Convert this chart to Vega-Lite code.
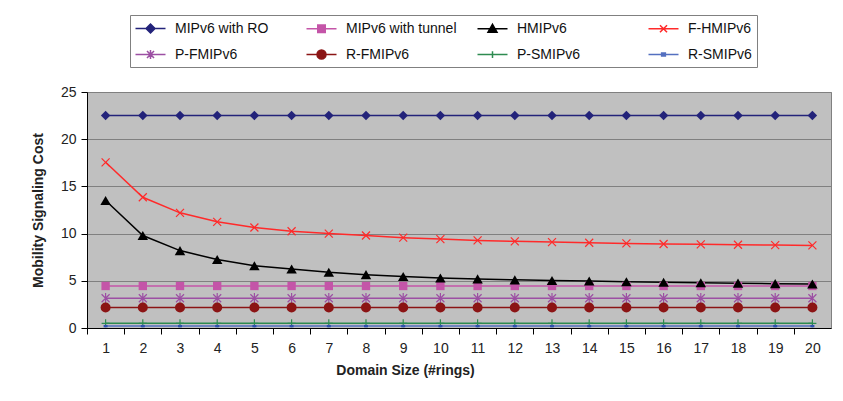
{
  "$schema": "https://vega.github.io/schema/vega-lite/v6.json",
  "width": 744,
  "height": 236,
  "autosize": {"type": "none"},
  "padding": {"left": 87, "top": 92, "right": 12, "bottom": 73},
  "background": "white",
  "config": {
    "font": "Liberation Sans",
    "view": {"fill": "#C0C0C0", "stroke": "#808080", "strokeWidth": 1},
    "axis": {"labelColor": "#222222", "titleColor": "#222222", "domainColor": "#000000", "tickColor": "#000000", "domainWidth": 1, "tickWidth": 1}
  },
  "data": {"values": [
    {"ring":1,"series":"MIPv6 with RO","cost":22.5},{"ring":2,"series":"MIPv6 with RO","cost":22.5},{"ring":3,"series":"MIPv6 with RO","cost":22.5},{"ring":4,"series":"MIPv6 with RO","cost":22.5},{"ring":5,"series":"MIPv6 with RO","cost":22.5},{"ring":6,"series":"MIPv6 with RO","cost":22.5},{"ring":7,"series":"MIPv6 with RO","cost":22.5},{"ring":8,"series":"MIPv6 with RO","cost":22.5},{"ring":9,"series":"MIPv6 with RO","cost":22.5},{"ring":10,"series":"MIPv6 with RO","cost":22.5},{"ring":11,"series":"MIPv6 with RO","cost":22.5},{"ring":12,"series":"MIPv6 with RO","cost":22.5},{"ring":13,"series":"MIPv6 with RO","cost":22.5},{"ring":14,"series":"MIPv6 with RO","cost":22.5},{"ring":15,"series":"MIPv6 with RO","cost":22.5},{"ring":16,"series":"MIPv6 with RO","cost":22.5},{"ring":17,"series":"MIPv6 with RO","cost":22.5},{"ring":18,"series":"MIPv6 with RO","cost":22.5},{"ring":19,"series":"MIPv6 with RO","cost":22.5},{"ring":20,"series":"MIPv6 with RO","cost":22.5},
    {"ring":1,"series":"MIPv6 with tunnel","cost":4.45},{"ring":2,"series":"MIPv6 with tunnel","cost":4.45},{"ring":3,"series":"MIPv6 with tunnel","cost":4.45},{"ring":4,"series":"MIPv6 with tunnel","cost":4.45},{"ring":5,"series":"MIPv6 with tunnel","cost":4.45},{"ring":6,"series":"MIPv6 with tunnel","cost":4.45},{"ring":7,"series":"MIPv6 with tunnel","cost":4.45},{"ring":8,"series":"MIPv6 with tunnel","cost":4.45},{"ring":9,"series":"MIPv6 with tunnel","cost":4.45},{"ring":10,"series":"MIPv6 with tunnel","cost":4.45},{"ring":11,"series":"MIPv6 with tunnel","cost":4.45},{"ring":12,"series":"MIPv6 with tunnel","cost":4.45},{"ring":13,"series":"MIPv6 with tunnel","cost":4.45},{"ring":14,"series":"MIPv6 with tunnel","cost":4.45},{"ring":15,"series":"MIPv6 with tunnel","cost":4.45},{"ring":16,"series":"MIPv6 with tunnel","cost":4.45},{"ring":17,"series":"MIPv6 with tunnel","cost":4.45},{"ring":18,"series":"MIPv6 with tunnel","cost":4.45},{"ring":19,"series":"MIPv6 with tunnel","cost":4.45},{"ring":20,"series":"MIPv6 with tunnel","cost":4.45},
    {"ring":1,"series":"HMIPv6","cost":13.5},{"ring":2,"series":"HMIPv6","cost":9.8},{"ring":3,"series":"HMIPv6","cost":8.2},{"ring":4,"series":"HMIPv6","cost":7.25},{"ring":5,"series":"HMIPv6","cost":6.6},{"ring":6,"series":"HMIPv6","cost":6.25},{"ring":7,"series":"HMIPv6","cost":5.9},{"ring":8,"series":"HMIPv6","cost":5.65},{"ring":9,"series":"HMIPv6","cost":5.45},{"ring":10,"series":"HMIPv6","cost":5.3},{"ring":11,"series":"HMIPv6","cost":5.2},{"ring":12,"series":"HMIPv6","cost":5.1},{"ring":13,"series":"HMIPv6","cost":5.03},{"ring":14,"series":"HMIPv6","cost":4.97},{"ring":15,"series":"HMIPv6","cost":4.9},{"ring":16,"series":"HMIPv6","cost":4.85},{"ring":17,"series":"HMIPv6","cost":4.8},{"ring":18,"series":"HMIPv6","cost":4.75},{"ring":19,"series":"HMIPv6","cost":4.7},{"ring":20,"series":"HMIPv6","cost":4.66},
    {"ring":1,"series":"F-HMIPv6","cost":17.55},{"ring":2,"series":"F-HMIPv6","cost":13.85},{"ring":3,"series":"F-HMIPv6","cost":12.2},{"ring":4,"series":"F-HMIPv6","cost":11.25},{"ring":5,"series":"F-HMIPv6","cost":10.65},{"ring":6,"series":"F-HMIPv6","cost":10.25},{"ring":7,"series":"F-HMIPv6","cost":10.0},{"ring":8,"series":"F-HMIPv6","cost":9.8},{"ring":9,"series":"F-HMIPv6","cost":9.57},{"ring":10,"series":"F-HMIPv6","cost":9.42},{"ring":11,"series":"F-HMIPv6","cost":9.28},{"ring":12,"series":"F-HMIPv6","cost":9.18},{"ring":13,"series":"F-HMIPv6","cost":9.1},{"ring":14,"series":"F-HMIPv6","cost":9.03},{"ring":15,"series":"F-HMIPv6","cost":8.96},{"ring":16,"series":"F-HMIPv6","cost":8.9},{"ring":17,"series":"F-HMIPv6","cost":8.86},{"ring":18,"series":"F-HMIPv6","cost":8.82},{"ring":19,"series":"F-HMIPv6","cost":8.78},{"ring":20,"series":"F-HMIPv6","cost":8.75},
    {"ring":1,"series":"P-FMIPv6","cost":3.15},{"ring":2,"series":"P-FMIPv6","cost":3.15},{"ring":3,"series":"P-FMIPv6","cost":3.15},{"ring":4,"series":"P-FMIPv6","cost":3.15},{"ring":5,"series":"P-FMIPv6","cost":3.15},{"ring":6,"series":"P-FMIPv6","cost":3.15},{"ring":7,"series":"P-FMIPv6","cost":3.15},{"ring":8,"series":"P-FMIPv6","cost":3.15},{"ring":9,"series":"P-FMIPv6","cost":3.15},{"ring":10,"series":"P-FMIPv6","cost":3.15},{"ring":11,"series":"P-FMIPv6","cost":3.15},{"ring":12,"series":"P-FMIPv6","cost":3.15},{"ring":13,"series":"P-FMIPv6","cost":3.15},{"ring":14,"series":"P-FMIPv6","cost":3.15},{"ring":15,"series":"P-FMIPv6","cost":3.15},{"ring":16,"series":"P-FMIPv6","cost":3.15},{"ring":17,"series":"P-FMIPv6","cost":3.15},{"ring":18,"series":"P-FMIPv6","cost":3.15},{"ring":19,"series":"P-FMIPv6","cost":3.15},{"ring":20,"series":"P-FMIPv6","cost":3.15},
    {"ring":1,"series":"R-FMIPv6","cost":2.18},{"ring":2,"series":"R-FMIPv6","cost":2.18},{"ring":3,"series":"R-FMIPv6","cost":2.18},{"ring":4,"series":"R-FMIPv6","cost":2.18},{"ring":5,"series":"R-FMIPv6","cost":2.18},{"ring":6,"series":"R-FMIPv6","cost":2.18},{"ring":7,"series":"R-FMIPv6","cost":2.18},{"ring":8,"series":"R-FMIPv6","cost":2.18},{"ring":9,"series":"R-FMIPv6","cost":2.18},{"ring":10,"series":"R-FMIPv6","cost":2.18},{"ring":11,"series":"R-FMIPv6","cost":2.18},{"ring":12,"series":"R-FMIPv6","cost":2.18},{"ring":13,"series":"R-FMIPv6","cost":2.18},{"ring":14,"series":"R-FMIPv6","cost":2.18},{"ring":15,"series":"R-FMIPv6","cost":2.18},{"ring":16,"series":"R-FMIPv6","cost":2.18},{"ring":17,"series":"R-FMIPv6","cost":2.18},{"ring":18,"series":"R-FMIPv6","cost":2.18},{"ring":19,"series":"R-FMIPv6","cost":2.18},{"ring":20,"series":"R-FMIPv6","cost":2.18},
    {"ring":1,"series":"P-SMIPv6","cost":0.5},{"ring":2,"series":"P-SMIPv6","cost":0.5},{"ring":3,"series":"P-SMIPv6","cost":0.5},{"ring":4,"series":"P-SMIPv6","cost":0.5},{"ring":5,"series":"P-SMIPv6","cost":0.5},{"ring":6,"series":"P-SMIPv6","cost":0.5},{"ring":7,"series":"P-SMIPv6","cost":0.5},{"ring":8,"series":"P-SMIPv6","cost":0.5},{"ring":9,"series":"P-SMIPv6","cost":0.5},{"ring":10,"series":"P-SMIPv6","cost":0.5},{"ring":11,"series":"P-SMIPv6","cost":0.5},{"ring":12,"series":"P-SMIPv6","cost":0.5},{"ring":13,"series":"P-SMIPv6","cost":0.5},{"ring":14,"series":"P-SMIPv6","cost":0.5},{"ring":15,"series":"P-SMIPv6","cost":0.5},{"ring":16,"series":"P-SMIPv6","cost":0.5},{"ring":17,"series":"P-SMIPv6","cost":0.5},{"ring":18,"series":"P-SMIPv6","cost":0.5},{"ring":19,"series":"P-SMIPv6","cost":0.5},{"ring":20,"series":"P-SMIPv6","cost":0.5},
    {"ring":1,"series":"R-SMIPv6","cost":0.2},{"ring":2,"series":"R-SMIPv6","cost":0.2},{"ring":3,"series":"R-SMIPv6","cost":0.2},{"ring":4,"series":"R-SMIPv6","cost":0.2},{"ring":5,"series":"R-SMIPv6","cost":0.2},{"ring":6,"series":"R-SMIPv6","cost":0.2},{"ring":7,"series":"R-SMIPv6","cost":0.2},{"ring":8,"series":"R-SMIPv6","cost":0.2},{"ring":9,"series":"R-SMIPv6","cost":0.2},{"ring":10,"series":"R-SMIPv6","cost":0.2},{"ring":11,"series":"R-SMIPv6","cost":0.2},{"ring":12,"series":"R-SMIPv6","cost":0.2},{"ring":13,"series":"R-SMIPv6","cost":0.2},{"ring":14,"series":"R-SMIPv6","cost":0.2},{"ring":15,"series":"R-SMIPv6","cost":0.2},{"ring":16,"series":"R-SMIPv6","cost":0.2},{"ring":17,"series":"R-SMIPv6","cost":0.2},{"ring":18,"series":"R-SMIPv6","cost":0.2},{"ring":19,"series":"R-SMIPv6","cost":0.2},{"ring":20,"series":"R-SMIPv6","cost":0.2}
  ]},
  "encoding": {
    "x": {
      "field": "ring", "type": "quantitative",
      "scale": {"domain": [0.5, 20.5], "nice": false, "zero": false},
      "axis": {
        "values": [1,2,3,4,5,6,7,8,9,10,11,12,13,14,15,16,17,18,19,20],
        "format": "d", "grid": false, "tickSize": 6, "tickOffset": -18.6, "labelOffset": 18.6,
        "labelFontSize": 14, "labelPadding": 7, "labelFlush": false, "labelOverlap": false,
        "title": "Domain Size (#rings)", "titleFontSize": 14, "titleFontWeight": "bold",
        "titlePadding": 8, "titleX": 318
      }
    },
    "y": {
      "field": "cost", "type": "quantitative",
      "scale": {"domain": [0, 25], "nice": false},
      "axis": {
        "values": [0,5,10,15,20,25], "grid": true, "gridColor": "#808080", "gridWidth": 1,
        "tickSize": 6, "labelFontSize": 14, "labelPadding": 5,
        "title": "Mobility Signaling Cost", "titleFontSize": 14, "titleFontWeight": "bold", "titlePadding": 15
      }
    }
  },
  "layer": [
    {
      "mark": {"type": "line", "strokeWidth": 1.5},
      "encoding": {
        "color": {
          "field": "series", "type": "nominal",
          "scale": {
            "domain": ["MIPv6 with RO","MIPv6 with tunnel","HMIPv6","F-HMIPv6","P-FMIPv6","R-FMIPv6","P-SMIPv6","R-SMIPv6"],
            "range": ["#23237A","#C455A8","#000000","#FF2A2A","#9C4FA3","#8B1414","#2E8B50","#5470C0"]
          }
        }
      }
    },
    {"transform": [{"filter": "datum.series === 'MIPv6 with RO'"}], "mark": {"type": "point", "shape": "diamond", "size": 90, "filled": true, "opacity": 1, "color": "#23237A"}},
    {"transform": [{"filter": "datum.series === 'MIPv6 with tunnel'"}], "mark": {"type": "point", "shape": "square", "size": 70, "filled": true, "opacity": 1, "color": "#C455A8"}},
    {"transform": [{"filter": "datum.series === 'HMIPv6'"}], "mark": {"type": "point", "shape": "triangle-up", "size": 110, "filled": true, "opacity": 1, "color": "#000000"}},
    {"transform": [{"filter": "datum.series === 'F-HMIPv6'"}], "mark": {"type": "point", "shape": "M-1,-1L1,1M1,-1L-1,1", "size": 64, "filled": false, "strokeWidth": 1.2, "opacity": 1, "color": "#FF2A2A"}},
    {"transform": [{"filter": "datum.series === 'P-FMIPv6'"}], "mark": {"type": "point", "shape": "M-1,-1L1,1M1,-1L-1,1M0,-1.3V1.3", "size": 64, "filled": false, "strokeWidth": 1.2, "opacity": 1, "color": "#9C4FA3"}},
    {"transform": [{"filter": "datum.series === 'R-FMIPv6'"}], "mark": {"type": "point", "shape": "circle", "size": 100, "filled": true, "opacity": 1, "color": "#8B1414"}},
    {"transform": [{"filter": "datum.series === 'P-SMIPv6'"}], "mark": {"type": "point", "shape": "M-1,0H1M0,-1V1", "size": 64, "filled": false, "strokeWidth": 1.2, "opacity": 1, "color": "#2E8B50"}},
    {"transform": [{"filter": "datum.series === 'R-SMIPv6'"}], "mark": {"type": "point", "shape": "M-1,-0.6H1V0.6H-1Z", "size": 16, "filled": true, "opacity": 1, "color": "#3050B0"}},
    {
      "transform": [{"filter": "datum.ring > 99"}],
      "mark": {"type": "point", "filled": true, "opacity": 1, "strokeWidth": 1.5},
      "encoding": {
        "color": {
          "field": "series", "type": "nominal",
          "legend": {
            "title": null, "orient": "none", "legendX": 43, "legendY": -77,
            "direction": "horizontal", "columns": 4, "gridAlign": "all",
            "columnPadding": 17, "rowPadding": 10, "padding": 5,
            "strokeColor": "#808080", "fillColor": "white",
            "labelFont": "Liberation Sans", "labelFontSize": 14, "labelColor": "#111111",
            "labelOffset": 16, "symbolOffset": 7,
            "symbolSize": 225, "symbolStrokeWidth": 1.5
          }
        },
        "stroke": {
          "field": "series", "type": "nominal",
          "scale": {
            "domain": ["MIPv6 with RO","MIPv6 with tunnel","HMIPv6","F-HMIPv6","P-FMIPv6","R-FMIPv6","P-SMIPv6","R-SMIPv6"],
            "range": ["#23237A","#C455A8","#000000","#FF2A2A","#9C4FA3","#8B1414","#2E8B50","#5470C0"]
          }
        },
        "shape": {
          "field": "series", "type": "nominal",
          "scale": {
            "domain": ["MIPv6 with RO","MIPv6 with tunnel","HMIPv6","F-HMIPv6","P-FMIPv6","R-FMIPv6","P-SMIPv6","R-SMIPv6"],
            "range": [
              "M-2,0H2M-0.6,0L0,-0.6L0.6,0L0,0.6Z",
              "M-2,0H2M-0.5,-0.5H0.5V0.5H-0.5Z",
              "M-2,0H2M0,-0.6L0.6,0.45H-0.6Z",
              "M-2,0H2M-0.47,-0.47L0.47,0.47M0.47,-0.47L-0.47,0.47",
              "M-2,0H2M-0.47,-0.47L0.47,0.47M0.47,-0.47L-0.47,0.47M0,-0.6V0.6",
              "M-2,0H2M-0.6,0A0.6,0.6 0 1,0 0.6,0A0.6,0.6 0 1,0 -0.6,0Z",
              "M-2,0H2M0,-0.45V0.45",
              "M-2,0H2M-0.25,-0.2H0.25V0.2H-0.25Z"
            ]
          }
        }
      }
    }
  ]
}
